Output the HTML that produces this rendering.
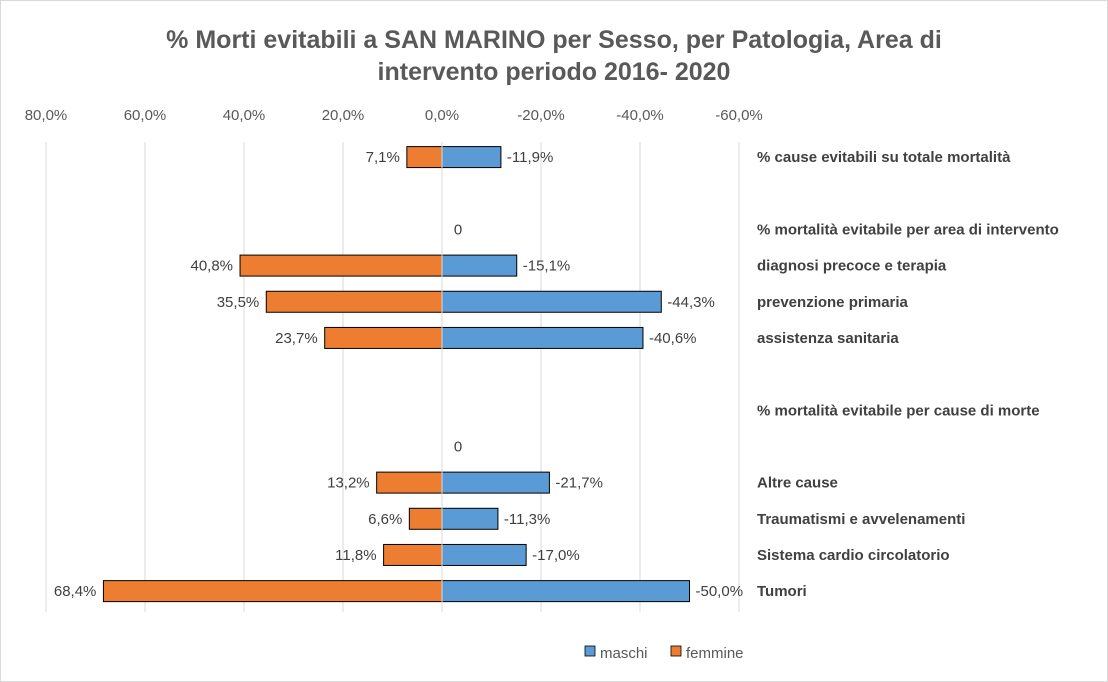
<!DOCTYPE html>
<html><head><meta charset="utf-8"><style>
body{margin:0;background:#fff;}
svg{display:block;font-family:"Liberation Sans",Calibri,sans-serif;}
</style></head><body>
<svg id="chart" width="1108" height="682">
<rect x="0.5" y="0.5" width="1107" height="681" fill="#fff" stroke="#d9d9d9"/>
<text x="554" y="48" text-anchor="middle" font-size="25" font-weight="bold" fill="#595959">% Morti evitabili a SAN MARINO per Sesso, per Patologia, Area di</text>
<text x="554" y="80" text-anchor="middle" font-size="25" font-weight="bold" fill="#595959">intervento  periodo 2016- 2020</text>
<g id="grid"></g><g id="bars"></g><g id="labels"></g>
<g>
<rect x="585" y="646" width="10" height="10" fill="#5b9bd5" stroke="#000" stroke-width="0.8"/>
<text x="600" y="658" font-size="15" fill="#595959">maschi</text>
<rect x="671" y="646" width="10" height="10" fill="#ed7d31" stroke="#000" stroke-width="0.8"/>
<text x="686" y="658" font-size="15" fill="#595959">femmine</text>
</g>
</svg>
<script>
const categories=["% cause evitabili su totale mortalità","","% mortalità evitabile per area di intervento","diagnosi precoce e terapia","prevenzione primaria","assistenza sanitaria","","% mortalità evitabile per cause di morte","","Altre cause","Traumatismi e avvelenamenti","Sistema cardio circolatorio","Tumori"];
const femmine=[7.1,null,0,40.8,35.5,23.7,null,null,0,13.2,6.6,11.8,68.4];
const maschi=[-11.9,null,null,-15.1,-44.3,-40.6,null,null,null,-21.7,-11.3,-17.0,-50.0];
const ticks=[80,60,40,20,0,-20,-40,-60];
const NS="http://www.w3.org/2000/svg";
const x0=442,pxPer=4.95,plotTop=139,rowH=36.17,barH=21;
function xs(v){return x0-v*pxPer;}
function yc(i){return plotTop+rowH*(i+0.5);}
function fmt(v){return v.toFixed(1).replace('.',',')+'%';}
function mk(tag,attrs,parent){const e=document.createElementNS(NS,tag);for(const k in attrs)e.setAttribute(k,attrs[k]);document.getElementById(parent).appendChild(e);return e;}
ticks.forEach(t=>{
 const l=mk('line',{x1:xs(t),x2:xs(t),y1:142,y2:612,stroke:'#d9d9d9'},'grid');
 
 
 const tx=mk('text',{x:xs(t),y:120,'text-anchor':'middle','font-size':15,fill:'#595959'},'grid');
 tx.textContent=(t===0?'0,0':t.toFixed(1).replace('.',','))+'%';
 
 
});
categories.forEach((c,i)=>{
 const y=yc(i);
 if(c){const t=mk('text',{x:757,y:y+5,'font-size':15,'font-weight':'bold',fill:'#404040'},'labels');t.textContent=c;
 
 }
 const f=femmine[i],m=maschi[i];
 if(f!==null&&f!==0){
  const r=mk('rect',{x:xs(f),y:y-barH/2,width:x0-xs(f),height:barH,fill:'#ed7d31',stroke:'#000','stroke-width':1},'bars');
  
  
  const t=mk('text',{x:xs(f)-7,y:y+5,'text-anchor':'end','font-size':15,fill:'#404040'},'labels');t.textContent=fmt(f);
  
  
 }
 if(f===0){const t=mk('text',{x:458,y:y+5,'text-anchor':'middle','font-size':15,fill:'#404040'},'labels');t.textContent='0';
  
  }
 if(m!==null){
  const r=mk('rect',{x:x0,y:y-barH/2,width:xs(m)-x0,height:barH,fill:'#5b9bd5',stroke:'#000','stroke-width':1},'bars');
  
  
  const t=mk('text',{x:xs(m)+6,y:y+5,'font-size':15,fill:'#404040'},'labels');t.textContent=fmt(m);
  
  
 }
});
mk('line',{x1:x0,x2:x0,y1:142,y2:612,stroke:'#d9d9d9'},'bars');
</script>
</body></html>
